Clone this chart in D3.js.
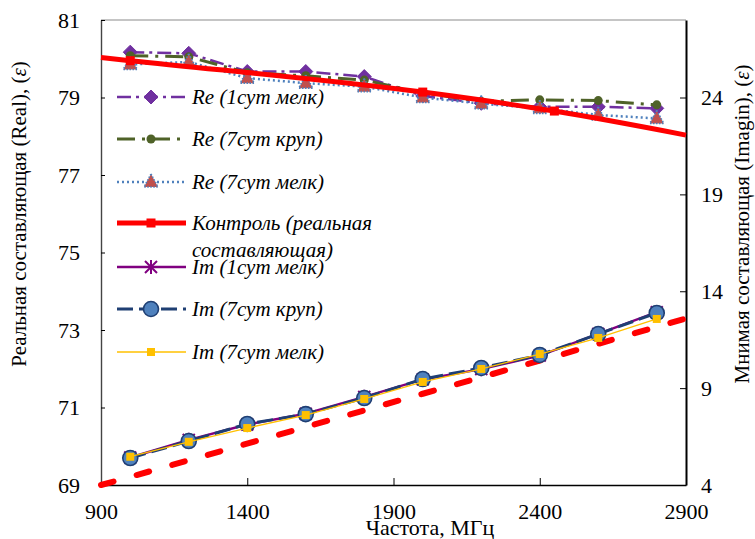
<!DOCTYPE html>
<html>
<head>
<meta charset="utf-8">
<script src="https://cdn.jsdelivr.net/npm/d3@7"></script>
<style>
  body { margin: 0; background: #fff; }
  text { font-family: "Liberation Serif", "Times New Roman", serif; fill: #000; }
</style>
</head>
<body>
<svg id="chart" width="755" height="539"></svg>
<script>
// Measurement frequencies, MHz
const freq = [1000, 1200, 1400, 1600, 1800, 2000, 2200, 2400, 2600, 2800];

// Real part of permittivity (left axis)
const re1Fine   = [80.17, 80.14, 79.67, 79.67, 79.54, 79.04, 78.85, 78.76, 78.76, 78.72];
const re7Coarse = [80.08, 80.05, 79.64, 79.56, 79.45, 79.12, 78.90, 78.94, 78.92, 78.81];
const re7Fine   = [79.85, 79.92, 79.50, 79.37, 79.28, 79.00, 78.84, 78.72, 78.55, 78.46];

// Imaginary part of permittivity (right axis)
const im1Fine   = [5.42, 6.33, 7.12, 7.68, 8.55, 9.45, 9.98, 10.68, 11.80, 12.92];
const im7Coarse = [5.39, 6.27, 7.15, 7.66, 8.49, 9.47, 10.04, 10.71, 11.79, 12.88];
const im7Fine   = [5.46, 6.23, 6.94, 7.61, 8.44, 9.32, 9.99, 10.76, 11.59, 12.57];

// Control sample: curve over the whole band, markers at measured points
const ctrlFreq     = [900, 1000, 2000, 2450, 2900];
const ctrlRe       = [80.03, 79.95, 79.14, 78.65, 78.03];
const ctrlIm       = [4.00, 4.42, 8.71, 10.63, 12.60];
const ctrlMeasured = [false, true, true, true, false];

// Axis ticks
const xTicks  = [900, 1400, 1900, 2400, 2900];
const yLTicks = [69, 71, 73, 75, 77, 79, 81];
const yRTicks = [4, 9, 14, 19, 24];

const svg = d3.select("#chart");
const L = 101, R = 686, T = 20, B = 485;

const x  = d3.scaleLinear().domain([900, 2900]).range([L, R]);
const yL = d3.scaleLinear().domain([69, 81]).range([B, T]);
const yR = d3.scaleLinear().domain([4, 28]).range([B, T]);

// plot frame top edge
svg.append("line").attr("x1", L).attr("x2", R).attr("y1", T).attr("y2", T)
  .attr("stroke", "#8c8c8c").attr("stroke-width", 1.2);

// axes
const fs = "22px";
const gx = svg.append("g").attr("transform", `translate(0,${B})`)
  .call(d3.axisBottom(x).tickValues(xTicks).tickFormat(d3.format("d"))
    .tickSizeInner(-7).tickSizeOuter(0).tickPadding(18));
const gl = svg.append("g").attr("transform", `translate(${L},0)`)
  .call(d3.axisLeft(yL).tickValues(yLTicks).tickFormat(d3.format("d"))
    .tickSizeInner(-4).tickSizeOuter(0).tickPadding(21));
const gr = svg.append("g").attr("transform", `translate(${R},0)`)
  .call(d3.axisRight(yR).tickValues(yRTicks).tickFormat(d3.format("d"))
    .tickSizeInner(-6).tickSizeOuter(0).tickPadding(15));
[gx, gl, gr].forEach(g => {
  g.selectAll("text").style("font-size", fs).style("font-family", "Liberation Serif");
  g.selectAll("line").attr("stroke", "#000");
  g.select(".domain").attr("stroke", "#000").attr("stroke-width", 1.6);
});
gl.select(".domain").attr("stroke", "#444").attr("stroke-width", 1.4);
gr.select(".domain").attr("stroke-width", 2);

// axis titles (epsilon set in italic)
function axisTitle(tx, ty, label) {
  const t = svg.append("text").attr("transform", `translate(${tx},${ty}) rotate(-90)`)
    .attr("text-anchor", "middle").style("font-size", "21px");
  t.append("tspan").text(label + ", (");
  t.append("tspan").style("font-style", "italic").text("\u03B5");
  t.append("tspan").text(")");
}
axisTitle(26, 214, "Реальная составляющая (Real)");
axisTitle(749, 224, "Мнимая составляющая (Imagin)");
svg.append("text").attr("x", 430).attr("y", 535)
  .attr("text-anchor", "middle").style("font-size", "22px")
  .text("Частота, МГц");

// marker shapes
function marker(g, type, cx, cy, s) {
  switch (type) {
    case "diamond":
      g.append("path").attr("d", `M${cx},${cy-7}L${cx+7},${cy}L${cx},${cy+7}L${cx-7},${cy}Z`)
        .attr("fill", s.fill).attr("stroke", s.fill).attr("stroke-width", 1);
      break;
    case "dot":
      g.append("circle").attr("cx", cx).attr("cy", cy).attr("r", 4.5).attr("fill", s.fill);
      break;
    case "triangle":
      g.append("path").attr("d", `M${cx},${cy-8}L${cx+7},${cy+5}L${cx-7},${cy+5}Z`)
        .attr("fill", s.fill).attr("stroke", s.color).attr("stroke-width", 1.6)
        .attr("stroke-dasharray", "1.5 1.5");
      break;
    case "square":
      g.append("rect").attr("x", cx - s.size/2).attr("y", cy - s.size/2)
        .attr("width", s.size).attr("height", s.size).attr("fill", s.fill);
      break;
    case "star":
      g.append("path").attr("d",
        `M${cx-6},${cy-6}L${cx+6},${cy+6}M${cx-6},${cy+6}L${cx+6},${cy-6}M${cx},${cy-7}L${cx},${cy+7}`)
        .attr("stroke", s.color).attr("stroke-width", 2).attr("fill", "none");
      break;
    case "circle":
      g.append("circle").attr("cx", cx).attr("cy", cy).attr("r", 7.5)
        .attr("fill", s.fill).attr("stroke", s.color).attr("stroke-width", 1.6);
      break;
  }
}

const series = [
  { name: "Re (1сут мелк)", xs: freq, vals: re1Fine, axis: yL, color: "#7030a0", fill: "#7030a0",
    width: 2.5, dash: "14 5 3 5", mark: "diamond" },
  { name: "Re (7сут круп)", xs: freq, vals: re7Coarse, axis: yL, color: "#4f6228", fill: "#4f6228",
    width: 3, dash: "18 7 3 7", mark: "dot" },
  { name: "Re (7сут мелк)", xs: freq, vals: re7Fine, axis: yL, color: "#4f81bd", fill: "#c0504d",
    width: 2.5, dash: "2 3", mark: "triangle" },
  { name: ["Контроль (реальная", "составляющая)"], xs: ctrlFreq, vals: ctrlRe, axis: yL,
    color: "#ff0000", fill: "#ff0000", width: 5, dash: null, mark: "square", size: 9,
    show: ctrlMeasured, curve: d3.curveMonotoneX },
  { name: "Im (1сут мелк)", xs: freq, vals: im1Fine, axis: yR, color: "#800080", fill: "#800080",
    width: 2.5, dash: null, mark: "star" },
  { name: "Im (7сут круп)", xs: freq, vals: im7Coarse, axis: yR, color: "#1f3f73", fill: "#4f81bd",
    width: 3, dash: "16 6", mark: "circle" },
  { name: "Im (7сут мелк)", xs: freq, vals: im7Fine, axis: yR, color: "#ffc000", fill: "#ffc000",
    width: 1.3, dash: null, mark: "square", size: 8 }
];

const plot = svg.append("g");

// imaginary part of the control sample: dashed, no markers
plot.append("path")
  .datum(ctrlFreq.map((f, i) => [f, ctrlIm[i]]))
  .attr("d", d3.line().x(d => x(d[0])).y(d => yR(d[1])))
  .attr("fill", "none").attr("stroke", "#ff0000").attr("stroke-width", 6)
  .attr("stroke-linecap", "round").attr("stroke-dasharray", "13 24");

series.forEach(s => {
  const pts = s.xs.map((f, i) => [f, s.vals[i]]);
  const line = d3.line().x(d => x(d[0])).y(d => s.axis(d[1])).curve(s.curve || d3.curveLinear);
  const g = plot.append("g");
  g.append("path").datum(pts).attr("d", line)
    .attr("fill", "none").attr("stroke", s.color).attr("stroke-width", s.width)
    .attr("stroke-dasharray", s.dash);
  pts.forEach((d, i) => {
    if (s.show && !s.show[i]) return;
    marker(g, s.mark, x(d[0]), s.axis(d[1]), s);
  });
});

// legend
const legendY = [97, 139, 182, 223, 267, 309, 352];
const leg = svg.append("g");
series.forEach((s, i) => {
  const cy = legendY[i];
  leg.append("line").attr("x1", 117).attr("x2", 186).attr("y1", cy).attr("y2", cy)
    .attr("stroke", s.color).attr("stroke-width", s.width).attr("stroke-dasharray", s.dash);
  marker(leg, s.mark, 151, cy, s);
  const names = Array.isArray(s.name) ? s.name : [s.name];
  names.forEach((n, k) => {
    leg.append("text").attr("x", 192).attr("y", cy + 7 + k * 27)
      .style("font-size", "21px").style("font-style", "italic").text(n);
  });
});
</script>
</body>
</html>
